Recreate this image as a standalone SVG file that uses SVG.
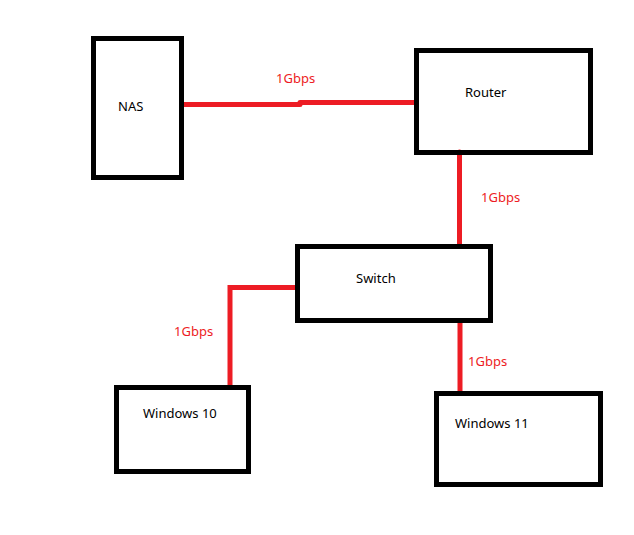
<svg xmlns="http://www.w3.org/2000/svg" width="634" height="535" viewBox="0 0 634 535">
<style>
.box{fill:none;stroke:#000;stroke-width:5}
.lbl{font-family:"Noto Sans","Open Sans",sans-serif;font-size:13px;fill:#000}
.spd{font-family:"Noto Sans","Open Sans",sans-serif;font-size:13px;fill:#ed1c24}
.wire{fill:none;stroke:#ed1c24;stroke-width:5;stroke-linecap:round;stroke-linejoin:miter}
</style>
<rect width="634" height="535" fill="#fff"/>
<g id="connectors">
<path class="wire" d="M184 104.5 H300 M300 102.5 H416"/>
<path class="wire" d="M459.5 152 V245"/>
<path class="wire" d="M296 287.5 H230 V386"/>
<path class="wire" d="M460 323 V392"/>
<text class="spd" x="276" y="83">1Gbps</text>
<text class="spd" x="481" y="202">1Gbps</text>
<text class="spd" x="174" y="336">1Gbps</text>
<text class="spd" x="468" y="366">1Gbps</text>
</g>
<g id="nas"><rect class="box" x="93.5" y="38.5" width="88" height="139"/><text class="lbl" x="118" y="111">NAS</text></g>
<g id="router"><rect class="box" x="416.5" y="50.5" width="174" height="102"/><text class="lbl" x="465" y="97">Router</text></g>
<g id="switch"><rect class="box" x="297.5" y="246.5" width="193" height="74"/><text class="lbl" x="356" y="283">Switch</text></g>
<g id="win10"><rect class="box" x="116.5" y="387.5" width="132" height="84"/><text class="lbl" x="143" y="418">Windows 10</text></g>
<g id="win11"><rect class="box" x="436.5" y="393.5" width="164" height="91"/><text class="lbl" x="455" y="428">Windows 11</text></g>
</svg>
